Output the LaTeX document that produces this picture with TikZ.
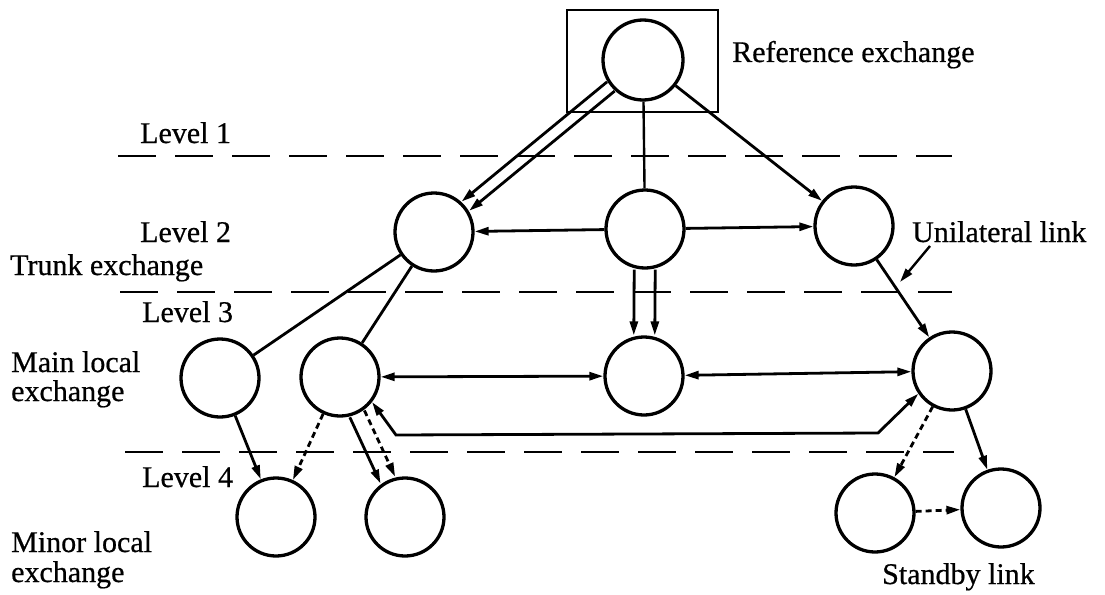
\documentclass[tikz,border=0pt]{standalone}
\usepackage{fontspec}
\setmainfont{Liberation Serif}
\newfontfamily\scanfont{Liberation Serif}[FakeBold=0.6]
\usetikzlibrary{arrows.meta}
\begin{document}
\begin{tikzpicture}[x=1pt,y=-1pt,
  exch/.style={circle, draw, line width=3.3pt, minimum size=78pt, inner sep=0pt},
  lbl/.style={anchor=base west, inner sep=0pt, font=\scanfont\fontsize{30}{34}\selectfont},
  link/.style={line width=2.8pt},
  tip/.tip={Triangle[length=14pt,width=8pt]},
  arr/.style={link, -tip},
  barr/.style={link, tip-tip},
  standby/.style={dash pattern=on 6pt off 4pt},
  levelline/.style={line width=2.2pt, dash pattern=on 38pt off 19pt},
]
\useasboundingbox (0,0) rectangle (1105,594);

% level separators
\draw[levelline] (118,156) -- (952,156);
\draw[levelline] (120,292) -- (952,292);
\draw[levelline] (125,452) -- (954,452);

% reference exchange box
\node[draw, line width=2.8pt, minimum width=151pt, minimum height=102pt, inner sep=0pt] (refbox) at (642.5,61) {};

% exchanges
\node[exch, minimum size=80pt] (R) at (643,60) {};
\node[exch] (T1) at (434,232) {};
\node[exch] (T2) at (645,229) {};
\node[exch] (T3) at (854,226) {};
\node[exch] (M1) at (220,378) {};
\node[exch] (M2) at (340,377) {};
\node[exch] (M3) at (644,376) {};
\node[exch] (M4) at (952,371) {};
\node[exch] (N1) at (276,517) {};
\node[exch] (N2) at (405,517) {};
\node[exch] (N3) at (875,513) {};
\node[exch] (N4) at (1001,508) {};

% labels
\node[lbl] (lref) at (732,62) {Reference exchange};
\node[lbl] (l1) at (140,143) {Level 1};
\node[lbl] (l2) at (140,242) {Level 2};
\node[lbl] (ltrunk) at (10,275) {Trunk exchange};
\node[lbl] (l3) at (142,322) {Level 3};
\node[lbl] (lmain1) at (11,372) {Main local};
\node[lbl] (lmain2) at (11,401) {exchange};
\node[lbl] (l4) at (142,487) {Level 4};
\node[lbl] (lminor1) at (11,552) {Minor local};
\node[lbl] (lminor2) at (11,582) {exchange};
\node[lbl] (luni) at (912,242) {Unilateral link};
\node[lbl] (lstand) at (882,584) {Standby link};

% level 1 -> level 2
\draw[arr, transform canvas={shift={(-3.8pt,4.6pt)}}] (R) -- (T1);
\draw[arr, transform canvas={shift={(3.8pt,-4.6pt)}}] (R) -- (T1);
\draw[link, line width=2.4pt] (R) -- (T2);
\draw[arr] (R) -- (T3);

% level 2
\draw[arr] (T2) -- (T1);
\draw[arr] (T2) -- (T3);

% level 2 -> level 3
\draw[arr, transform canvas={shift={(-10.5pt,0pt)}}] (T2) -- (M3);
\draw[arr, transform canvas={shift={(10.5pt,0pt)}}] (T2) -- (M3);
\draw[link] (T1) -- (M1);
\draw[link] (T1) -- (M2);
\draw[arr] (T3) -- (M4);

% unilateral link pointer
\coordinate (ulA) at (930,246);
\coordinate (ulB) at (900,282);
\draw[arr, line width=2.4pt] (ulA) -- (ulB);

% level 3
\draw[barr] (M2) -- (M3);
\draw[barr] (M3) -- (M4);
\coordinate (bl) at (396,435);
\coordinate (br) at (878,433);
\draw[barr] (M2.-38) -- (bl) -- (br) -- (M4.214);

% level 3 -> level 4
\draw[arr] (M1) -- (N1);
\draw[arr, standby] (M2) -- (N1);
\draw[arr, transform canvas={shift={(-7.3pt,-3.4pt)}}] (M2) -- (N2);
\draw[arr, standby, transform canvas={shift={(7.3pt,3.4pt)}}] (M2) -- (N2);
\draw[arr, standby] (M4) -- (N3);
\draw[arr] (M4) -- (N4);

% standby link
\draw[arr, standby] (N3) -- (N4);
\end{tikzpicture}
\end{document}
